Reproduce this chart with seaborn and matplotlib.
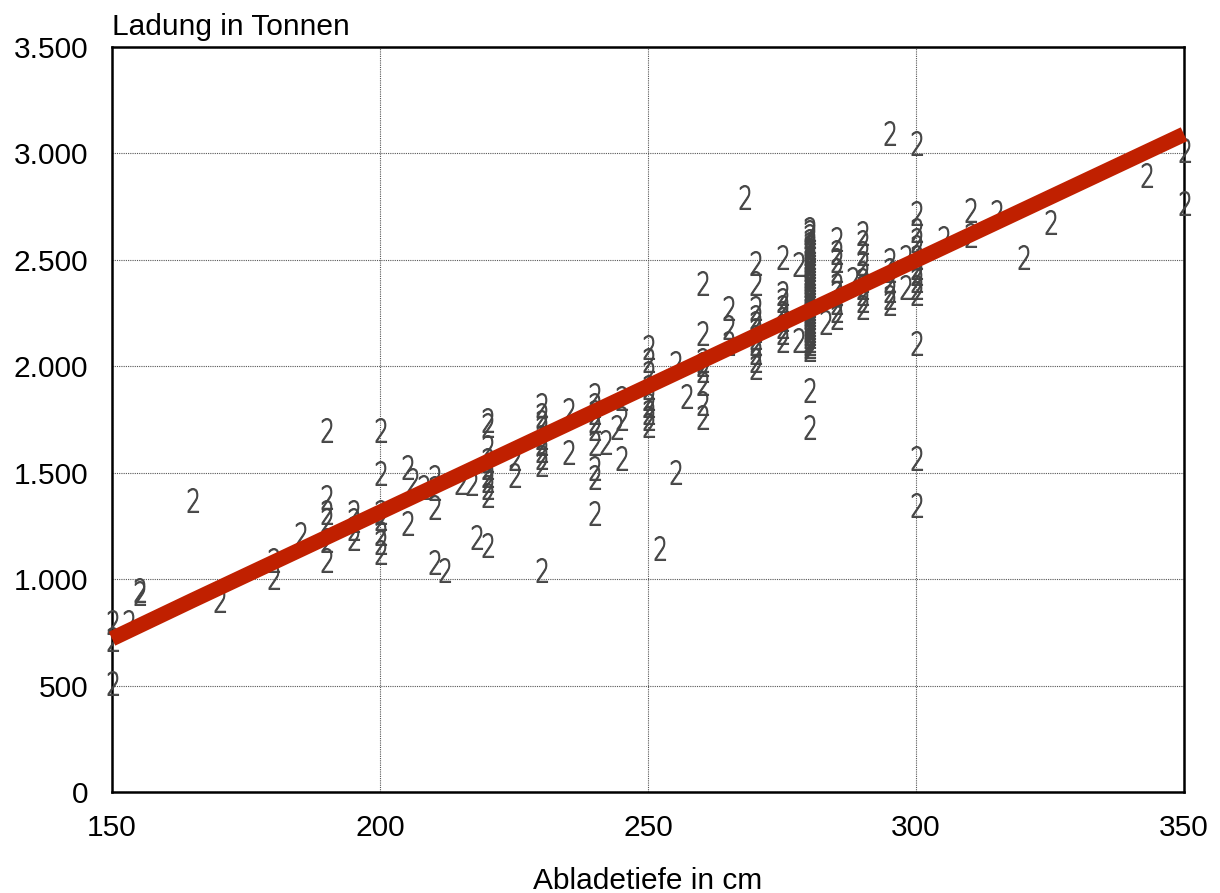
import numpy as np
import pandas as pd
import matplotlib
matplotlib.use("Agg")
import matplotlib.pyplot as plt
import seaborn as sns
from matplotlib.textpath import TextPath
from matplotlib.font_manager import FontProperties
from matplotlib.path import Path
from matplotlib.ticker import FuncFormatter

# Abladetiefe (cm) and Ladung (t), grouped by depth
depth_cm = (
    [150, 150, 150, 153, 155, 155, 165, 170, 180, 180, 185]
    + [190] * 6 + [195] * 4 + [200] * 7
    + [205, 205, 206, 208, 210, 210, 210, 210, 212, 215, 217, 218, 220]
    + [220] * 9 + [225, 225]
    + [230] * 10 + [235, 235]
    + [240] * 9 + [242, 244, 245, 245, 245]
    + [250] * 9 + [252, 255, 255, 257]
    + [260] * 8 + [265] * 3 + [268]
    + [270] * 11 + [275] * 9 + [278, 278]
    + [280] * 40 + [283]
    + [285] * 9 + [288]
    + [290] * 10 + [295] * 7 + [298, 298]
    + [300] * 14
    + [305, 310, 310, 315, 320, 325, 343, 350, 350]
)
load_t = (
    [800, 720, 510, 800, 935, 950, 1370, 900, 1090, 1010, 1210]
    + [1700, 1385, 1317, 1278, 1184, 1090]
    + [1317, 1278, 1238, 1191]
    + [1700, 1497, 1317, 1285, 1215, 1175, 1128]
    + [1525, 1262, 1466, 1434, 1480, 1430, 1340, 1082, 1043, 1458, 1451, 1200, 1160]
    + [1748, 1724, 1622, 1560, 1528, 1489, 1466, 1434, 1395]
    + [1568, 1489]
    + [1818, 1771, 1740, 1709, 1669, 1638, 1607, 1575, 1543, 1043]
    + [1795, 1599]
    + [1865, 1818, 1787, 1748, 1709, 1640, 1521, 1481, 1309]
    + [1645, 1716, 1851, 1757, 1568]
    + [2092, 2029, 1967, 1904, 1849, 1818, 1787, 1756, 1724]
    + [1146, 2015, 1505, 1860]
    + [2390, 2155, 2029, 2013, 1983, 1920, 1826, 1763]
    + [2274, 2186, 2108]
    + [2797]
    + [2484, 2390, 2272, 2233, 2202, 2170, 2139, 2108, 2068, 2029, 1998]
    + [2514, 2344, 2310, 2280, 2250, 2220, 2190, 2160, 2123]
    + [2480, 2123]
    + [2080, 2095, 2110, 2125, 2140, 2155, 2170, 2185, 2200, 2215,
       2230, 2245, 2260, 2275, 2290, 2305, 2320, 2335, 2350, 2365,
       2380, 2395, 2410, 2425, 2440, 2455, 2470, 2485, 2500, 2515,
       2530, 2545, 2560, 2575, 2590, 2610, 2630, 2645, 1890, 1716]
    + [2209]
    + [2600, 2538, 2499, 2452, 2382, 2343, 2303, 2264, 2233]
    + [2410]
    + [2624, 2585, 2530, 2484, 2437, 2405, 2374, 2343, 2311, 2280]
    + [3094, 2500, 2452, 2405, 2358, 2327, 2296]
    + [2515, 2374]
    + [3047, 2718, 2640, 2593, 2561, 2515, 2468, 2437, 2405, 2374, 2343, 2108, 1567, 1348]
    + [2601, 2734, 2617, 2725, 2515, 2679, 2898, 3016, 2766]
)

# trend line
trend_x = [150, 165, 350]
trend_y = [720, 900, 3090]

x_ticks = [150, 200, 250, 300, 350]
y_ticks = [0, 500, 1000, 1500, 2000, 2500, 3000, 3500]

sns.set_style("white")
plt.rcParams["font.family"] = ["Liberation Sans", "DejaVu Sans"]
plt.rcParams["text.color"] = "black"
plt.rcParams["axes.labelcolor"] = "black"

# "2" glyph used as the point marker (narrow, light)
tp = TextPath((0, 0), "2", size=1, prop=FontProperties(family="DejaVu Sans", weight="light"))
verts = tp.vertices.copy()
verts -= (verts.min(axis=0) + verts.max(axis=0)) / 2
verts[:, 0] *= 0.7
two_marker = Path(verts, tp.codes)

df = pd.DataFrame({"depth": depth_cm, "load": load_t})

fig = plt.figure(figsize=(12.2, 8.93), dpi=100)
ax = fig.add_axes([0.0918, 0.1131, 0.8787, 0.8343])

sns.scatterplot(data=df, x="depth", y="load", marker=two_marker, s=300,
                color="#444444", edgecolor="#444444", linewidth=0.7,
                ax=ax, zorder=3, clip_on=False)
sns.lineplot(x=trend_x, y=trend_y, color="#C02000", linewidth=11,
             ax=ax, zorder=4, clip_on=False, solid_capstyle="butt")

ax.set_xlim(150, 350)
ax.set_ylim(0, 3500)
ax.set_xticks(x_ticks)
ax.set_yticks(y_ticks)
ax.yaxis.set_major_formatter(FuncFormatter(lambda v, p: f"{v:,.0f}".replace(",", ".")))
ax.tick_params(length=0, labelsize=21.5, colors="black")
ax.tick_params(axis="x", pad=16)
ax.tick_params(axis="y", pad=17)

ax.grid(True, color="#555555", linestyle=(0, (1, 1)), linewidth=0.8)
for s in ax.spines.values():
    s.set_color("black")
    s.set_linewidth(1.8)

ax.set_xlabel("Abladetiefe in cm", fontsize=21.5, labelpad=18, color="black")
ax.set_ylabel("Ladung in Tonnen", fontsize=21.5, rotation=0, ha="left", va="bottom",
              color="black")
ax.yaxis.set_label_coords(0.0, 1.008)

fig.savefig("out.png", dpi=100)
